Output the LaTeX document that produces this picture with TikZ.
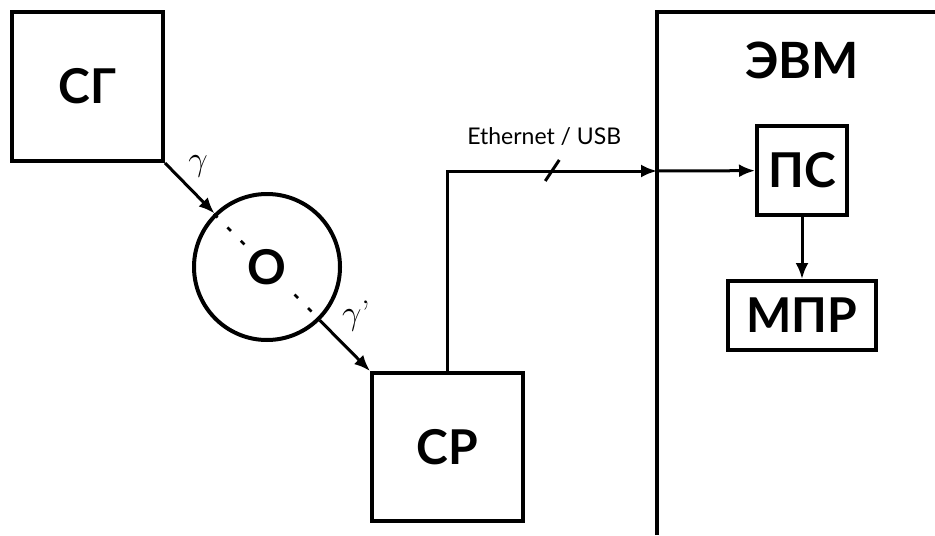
\documentclass[tikz,border=0pt]{standalone}
\usepackage{fontspec}
\usetikzlibrary{arrows.meta, positioning}
\newfontfamily\gothic{Lato}

\begin{document}
\begin{tikzpicture}[
    x=0.5pt, y=-0.5pt,
    box/.style={draw, line width=2pt, inner sep=0pt,
                font=\gothic\bfseries\fontsize{24}{26}\selectfont},
    lbl/.style={font=\gothic\fontsize{11.5}{13}\selectfont},
    arr/.style={line width=1.5pt, -{Latex[length=8pt, width=6.5pt]}},
    >=Latex
  ]
  \useasboundingbox (0,0) rectangle (935,535);

  % Source, object and detector
  \node[box, minimum width=75.5pt, minimum height=74.5pt] (sg) at (87.5,86.5) {СГ};
  \node[box, circle, minimum size=73pt] (obj) at (267,267) {};
  \draw[line width=1.3pt, dash pattern=on 2.5pt off 7pt] (obj.north west) -- (obj.south east);
  \node[font=\gothic\bfseries\fontsize{24}{26}\selectfont, fill=white, inner sep=0.5pt] (objtxt) at (obj) {О};
  \node[box, minimum width=75.5pt, minimum height=74pt] (cp) at (447.5,447) {СР};

  % Radiation
  \draw[arr] (sg.south east) -- (obj);
  \draw[arr] (obj) -- (cp.north west);
  \node[font=\fontsize{17}{18}\selectfont] (gam1) at (198,166) {$\gamma$};
  \node[font=\fontsize{17}{18}\selectfont] (gam2) at (356,316) {$\gamma$'};

  % Computer
  \draw[line width=2.2pt] (657,535) |- (935,12);
  \node[font=\gothic\bfseries\fontsize{25}{27}\selectfont] (evm) at (802,60) {ЭВМ};
  \coordinate (bus) at (657,171);
  \node[box, minimum width=45pt, minimum height=44.5pt] (ps) at (802,170.5) {ПС};
  \node[box, minimum width=74pt, minimum height=34.5pt] (mpr) at (802,315.5) {МПР};

  % Link
  \draw[arr] (cp.north) |- coordinate[pos=0.75] (tick) (bus);
  \draw[line width=1.5pt] ([shift={(-7,10)}]tick) -- ([shift={(7,-11)}]tick);
  \node[lbl, above=9pt of tick, xshift=-4pt] (link) {Ethernet / USB};
  \draw[arr] (bus) -- (ps);
  \draw[arr] (ps) -- (mpr);

\end{tikzpicture}
\end{document}
